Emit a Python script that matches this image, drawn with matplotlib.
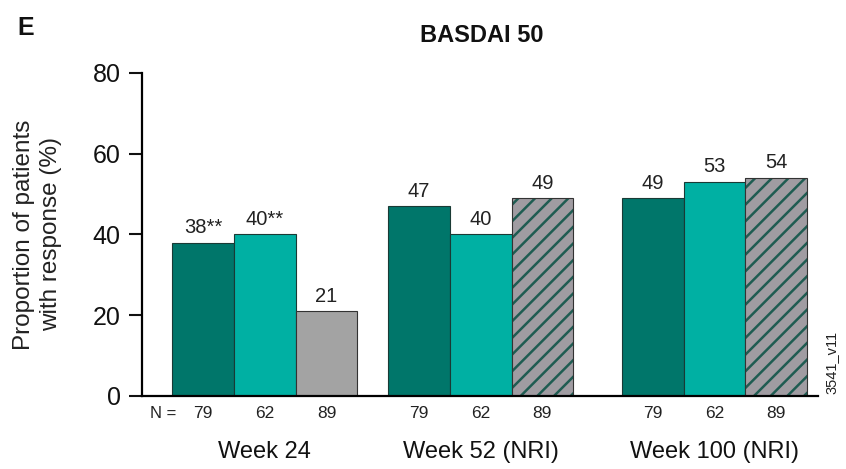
import matplotlib.pyplot as plt

plt.rcParams["font.family"] = ["Liberation Sans", "DejaVu Sans"]
plt.rcParams["hatch.linewidth"] = 1.8

weeks = ["Week 24", "Week 52 (NRI)", "Week 100 (NRI)"]
group_starts = [0.49, 3.99, 7.78]
values = [[38, 40, 21], [47, 40, 49], [49, 53, 54]]
value_labels = [["38**", "40**", "21"], ["47", "40", "49"], ["49", "53", "54"]]
n_patients = [79, 62, 89]

dark_teal = "#00766a"
teal = "#00b0a3"
grey = "#a3a3a3"
hatch_colour = "#1f5c52"

fig = plt.figure(figsize=(8.46, 4.69), dpi=100)
ax = fig.add_axes([0.168, 0.1557, 0.799, 0.6887])

for g, start in enumerate(group_starts):
    for i in range(3):
        x = start + 0.5 + i
        v = values[g][i]
        if i == 0:
            ax.bar(x, v, width=1, color=dark_teal, edgecolor="#1a3a35", linewidth=0.8)
        elif i == 1:
            ax.bar(x, v, width=1, color=teal, edgecolor="#1a3a35", linewidth=0.8)
        elif g == 0:
            ax.bar(x, v, width=1, color=grey, edgecolor="#333333", linewidth=0.8)
        else:
            # placebo switched to active: grey with dark diagonal hatching
            ax.bar(x, v, width=1, color="#a09ca2", edgecolor=hatch_colour,
                   hatch="//", linewidth=0)
            ax.bar(x, v, width=1, fill=False, edgecolor="#333333", linewidth=0.8)
        ax.annotate(value_labels[g][i], (x, v), xytext=(0, 4), textcoords="offset points",
                    ha="center", va="bottom", fontsize=14.5, color="#222222")
        ax.text(x, -0.053, str(n_patients[i]), transform=ax.get_xaxis_transform(),
                ha="center", va="center", fontsize=12.5, color="#222222")
    ax.text(start + 1.5, -0.173, weeks[g], transform=ax.get_xaxis_transform(),
            ha="center", va="center", fontsize=17, color="#111111")

ax.text(0.34, -0.053, "N =", transform=ax.get_xaxis_transform(),
        ha="center", va="center", fontsize=12, color="#222222")

ax.set_xlim(0, 10.96)
ax.set_ylim(0, 80)
ax.set_yticks([0, 20, 40, 60, 80])
ax.set_xticks([])
ax.spines["top"].set_visible(False)
ax.spines["right"].set_visible(False)
ax.spines["left"].set_linewidth(1.6)
ax.spines["bottom"].set_linewidth(1.6)
ax.tick_params(axis="y", length=9.5, width=1.5, pad=6, labelsize=18, colors="#111111")
ax.set_ylabel("Proportion of patients\nwith response (%)", fontsize=17.5,
              color="#222222", labelpad=22, linespacing=1.3)

fig.text(0.569, 0.925, "BASDAI 50", ha="center", va="center",
         fontsize=17, fontweight="bold", color="#111111")
fig.text(0.03, 0.94, "E", ha="center", va="center",
         fontsize=18, fontweight="bold", color="#111111")
fig.text(0.983, 0.228, "3541_v11", ha="center", va="center", rotation=90,
         fontsize=10.5, color="#222222")

fig.savefig("out.png", dpi=100)
